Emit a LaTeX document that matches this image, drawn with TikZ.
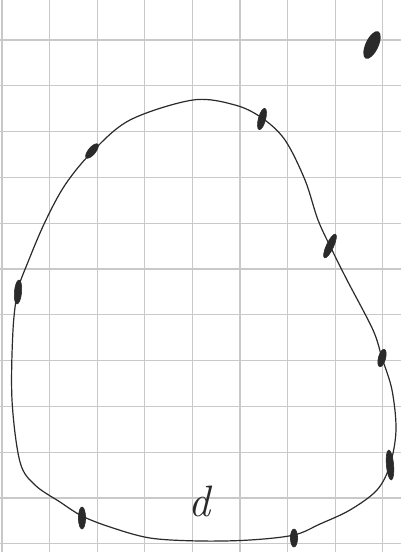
\documentclass[tikz,border=0pt]{standalone}
\usepackage{tikz}
\usetikzlibrary{calc}
\usepackage{xcolor}
\definecolor{gridline}{HTML}{C9C9C9}
\definecolor{pencil}{HTML}{2A2A2A}
\tikzset{
  tick/.style={fill=pencil,draw=pencil,line width=0.6pt},
}

\begin{document}
\begin{tikzpicture}[x=1pt,y=-1pt]
  \useasboundingbox (0,0) rectangle (401,552);
  \fill[white] (0,0) rectangle (401,552);

  % squared paper
  \foreach \k in {0,...,8} {
    \draw[gridline,line width=1.3pt] ({2+47.6*\k},0) -- ({2+47.6*\k},552);
  }
  \foreach \k in {0,...,11} {
    \draw[gridline,line width=1.3pt] (0,{40+45.8*\k}) -- (401,{40+45.8*\k});
  }

  % closed curve
  \draw[pencil,line width=1.2pt] plot[smooth cycle,tension=0.55] coordinates {
    (193,100) (235,105) (262,118) (285,140) (305,180) (318,220) (332,250)
    (347,280) (373,330) (382,358) (392,390) (396,430) (390,465) (377,490)
    (350,510) (320,524) (294,535) (250,540) (200,541) (150,538) (110,527)
    (82,516) (60,502) (35,485) (20,462) (12,400) (13,330) (18,290)
    (28,262) (45,222) (65,185) (92,152) (130,120)};

  % marks on the curve
  \foreach \x/\y/\a/\h in {92/151/-40/9, 262/119/-15/11, 330/246/-25/13,
                           18/292/-5/12, 382/358/-15/9, 390/465/5/15,
                           82/518/0/11, 294/538/0/9} {
    \fill[tick,rotate around={\a:(\x,\y)}] (\x,\y) ellipse (3.6 and \h);
  }

  % blob at top right
  \fill[pencil,rotate around={-25:(372,45)}] (372,45) ellipse (6.5 and 15);

  \node[pencil,font=\fontsize{44}{44}\selectfont\itshape] (lbl) at (199,501) {d};
\end{tikzpicture}
\end{document}
